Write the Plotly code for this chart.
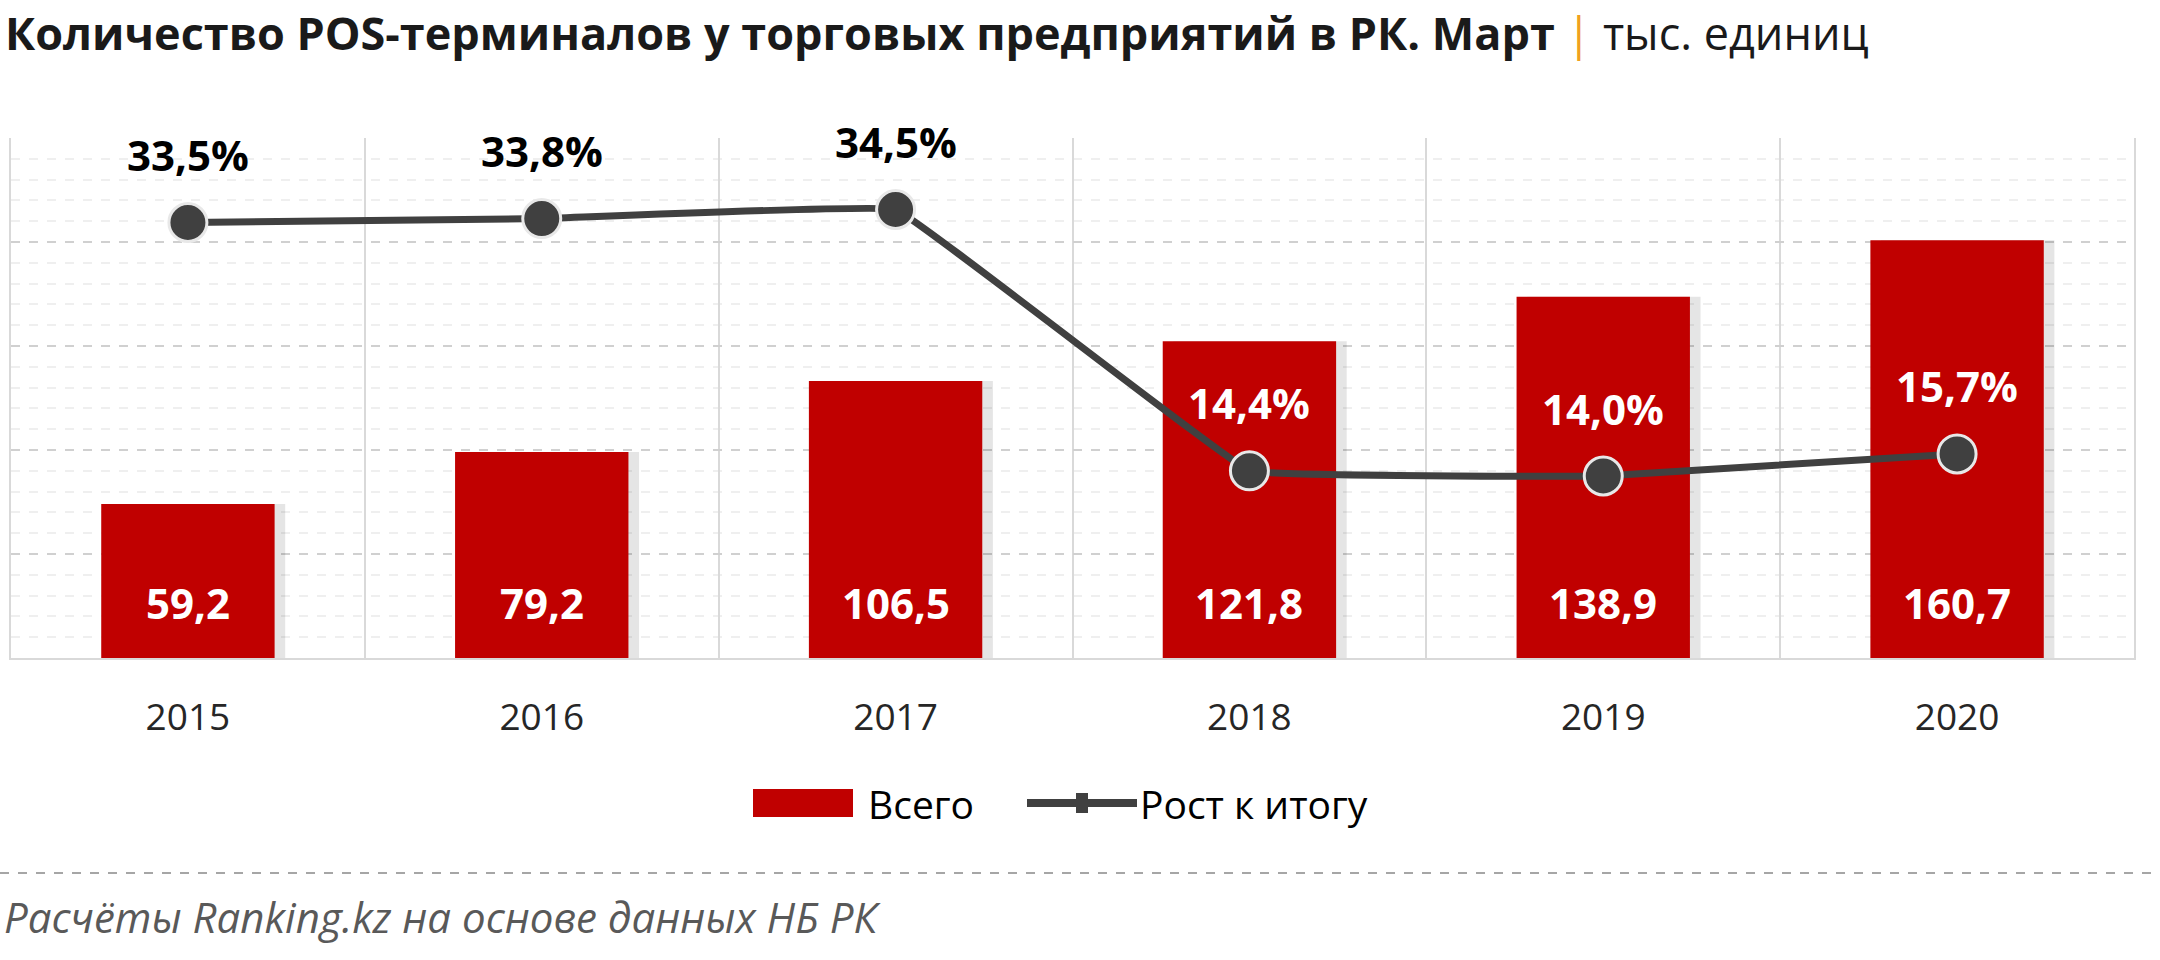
import plotly.graph_objects as go

# ---- data ----
years = ["2015", "2016", "2017", "2018", "2019", "2020"]
total = [59.2, 79.2, 106.5, 121.8, 138.9, 160.7]          # тыс. единиц
growth = [33.5, 33.8, 34.5, 14.4, 14.0, 15.7]             # %

title_main = "Количество POS-терминалов у торговых предприятий в РК. Март"
title_unit = "тыс. единиц"
legend_bar = "Всего"
legend_line = "Рост к итогу"
footer = "Расчёты Ranking.kz на основе данных НБ РК"

# ---- layout geometry (pixels) ----
W, H = 2160, 960
ML, MR, MT, MB = 11, 26, 138, 302
PW, PH = W - ML - MR, H - MT - MB
Y1_MAX, Y2_MAX = 200, 40
BAR_W = 0.49

def px_x(x):
    return (x - ML) / PW

def px_y(y):
    return (H - MB - y) / PH

FONT = "Open Sans"
RED = "#C00000"
DARK = "#404040"

def fmt(v, suffix=""):
    return f"{v:.1f}".replace(".", ",") + suffix

fig = go.Figure()

# soft shadow behind the bars
fig.add_trace(go.Bar(
    x=years, y=total, marker=dict(color="rgba(0,0,0,0.10)", line=dict(width=0)),
    width=BAR_W, offset=-BAR_W / 2 + 0.03, showlegend=False, hoverinfo="skip",
))
fig.add_trace(go.Bar(
    x=years, y=total, name=legend_bar, marker=dict(color=RED, line=dict(width=0)),
    width=BAR_W, offset=-BAR_W / 2, showlegend=False, hoverinfo="skip",
))
fig.add_trace(go.Scatter(
    x=years, y=growth, name=legend_line, yaxis="y2", mode="lines+markers",
    line=dict(color=DARK, width=7, shape="spline", smoothing=0.15),
    marker=dict(size=38, color=DARK, line=dict(color="#E8E8E8", width=3)),
    showlegend=False, hoverinfo="skip",
))

annotations = []
LBL_SIZE = 42
# bar value labels near the base of each bar
for i, v in enumerate(total):
    annotations.append(dict(
        x=i, y=0, xref="x", yref="y", yshift=56, text=f"<b>{fmt(v)}</b>",
        showarrow=False, font=dict(family=FONT, size=LBL_SIZE, color="white"),
        xanchor="center", yanchor="middle",
    ))
# growth labels above the points
units_per_px = Y1_MAX / PH
LBL_SHIFT = 68
for i, (g, v) in enumerate(zip(growth, total)):
    label_y1 = g * Y1_MAX / Y2_MAX + LBL_SHIFT * units_per_px
    col = "white" if label_y1 < v else "black"
    annotations.append(dict(
        x=i, y=g, xref="x", yref="y2", yshift=LBL_SHIFT, text=f"<b>{fmt(g, '%')}</b>",
        showarrow=False, font=dict(family=FONT, size=LBL_SIZE, color=col),
        xanchor="center", yanchor="middle",
    ))

# custom legend
leg_y = px_y(803)
annotations.append(dict(
    x=px_x(866), y=leg_y, xref="paper", yref="paper", text=legend_bar,
    showarrow=False, xanchor="left", yanchor="middle",
    font=dict(family=FONT, size=39, color="black"),
))
annotations.append(dict(
    x=px_x(1138), y=leg_y, xref="paper", yref="paper", text=legend_line,
    showarrow=False, xanchor="left", yanchor="middle",
    font=dict(family=FONT, size=39, color="black"),
))
# footer
annotations.append(dict(
    x=px_x(2), y=px_y(916), xref="paper", yref="paper", text=f"<i>{footer}</i>",
    showarrow=False, xanchor="left", yanchor="middle",
    font=dict(family=FONT, size=42, color="#595959"),
))

shapes = [
    dict(type="rect", xref="paper", yref="paper",
         x0=px_x(753), x1=px_x(853), y0=px_y(817), y1=px_y(789),
         fillcolor=RED, line=dict(width=0)),
    dict(type="line", xref="paper", yref="paper",
         x0=px_x(1027), x1=px_x(1137), y0=leg_y, y1=leg_y,
         line=dict(color=DARK, width=8)),
    dict(type="rect", xref="paper", yref="paper",
         x0=px_x(1076), x1=px_x(1088), y0=px_y(813), y1=px_y(793),
         fillcolor=DARK, line=dict(width=0)),
    dict(type="line", xref="paper", yref="paper",
         x0=px_x(0), x1=px_x(W), y0=px_y(873), y1=px_y(873),
         line=dict(color="#A6A6A6", width=2, dash="dash")),
]

fig.update_layout(
    width=W, height=H,
    margin=dict(l=ML, r=MR, t=MT, b=MB, pad=0),
    paper_bgcolor="white", plot_bgcolor="white",
    font=dict(family=FONT, color="black"),
    barmode="overlay",
    title=dict(
        text=f"<b>{title_main}</b> <span style='color:#F0A020'>|</span> {title_unit}",
        x=5 / W, xanchor="left", xref="container",
        y=1 - 34 / H, yanchor="middle", yref="container",
        font=dict(family=FONT, size=45, color="#1a1a1a"),
    ),
    xaxis=dict(
        type="category", range=[-0.5, len(years) - 0.5], autorange=False,
        tickson="boundaries", showgrid=True,
        gridcolor="#D9D9D9", gridwidth=2, ticks="", ticklen=0, tickangle=0,
        ticklabelstandoff=26,
        tickfont=dict(family=FONT, size=37, color="#262626"),
        showline=True, linecolor="#D9D9D9", linewidth=2,
        zeroline=False, fixedrange=True,
    ),
    yaxis=dict(
        range=[0, Y1_MAX], autorange=False, dtick=40, showticklabels=False, ticks="",
        showgrid=True, gridcolor="#D0D0D0", gridwidth=2, griddash="dash",
        minor=dict(dtick=8, showgrid=True, gridcolor="#EFEFEF", gridwidth=2),
        showline=True, mirror=True, linecolor="#D9D9D9", linewidth=2,
        zeroline=False, fixedrange=True,
    ),
    yaxis2=dict(
        range=[0, Y2_MAX], autorange=False, overlaying="y", side="right", showgrid=False,
        showticklabels=False, ticks="", zeroline=False, showline=False,
    ),
    annotations=annotations,
    shapes=shapes,
)

fig.write_html("out.html")
